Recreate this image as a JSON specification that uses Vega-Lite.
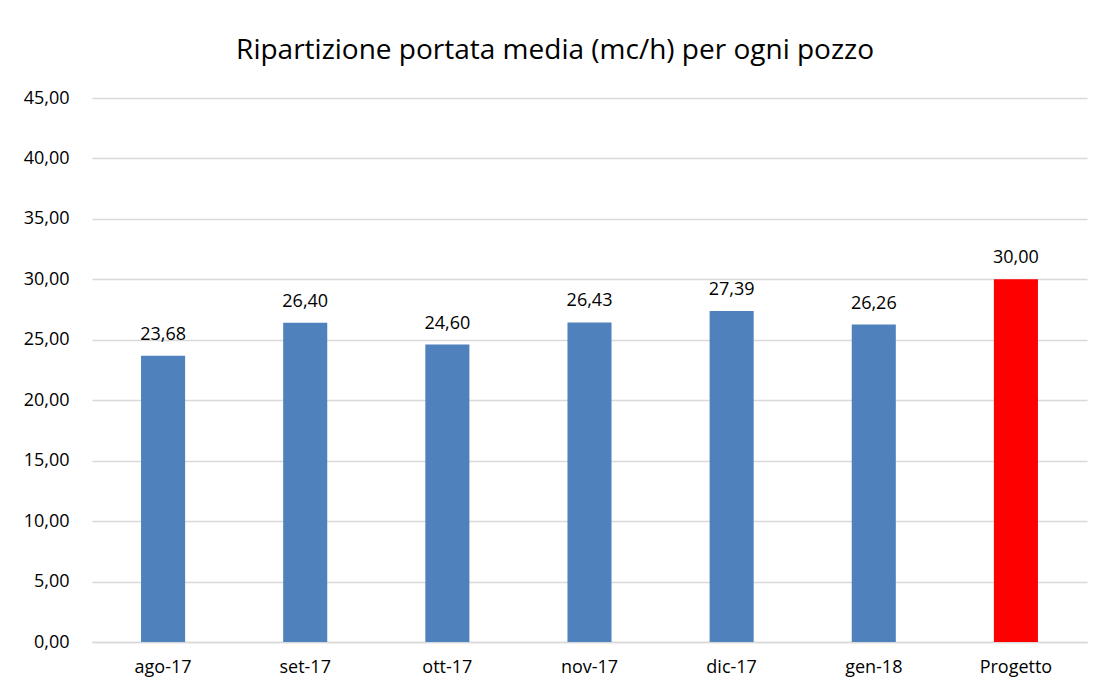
{
  "$schema": "https://vega.github.io/schema/vega-lite/v6.json",
  "width": 995,
  "height": 544,
  "autosize": {"type": "none"},
  "padding": {"left": 92, "top": 98, "right": 15, "bottom": 48},
  "background": "white",
  "config": {
    "locale": {"number": {"decimal": ",", "thousands": ".", "grouping": [3], "currency": ["€", ""]}},
    "view": {"stroke": null},
    "font": "Open Sans"
  },
  "title": {
    "text": "Ripartizione portata media (mc/h) per ogni pozzo",
    "fontSize": 28,
    "fontWeight": "normal",
    "color": "#000000",
    "font": "Open Sans",
    "anchor": "middle",
    "frame": "bounds",
    "offset": 24
  },
  "data": {
    "values": [
      {"mese": "ago-17", "portata": 23.68, "tipo": "misura"},
      {"mese": "set-17", "portata": 26.40, "tipo": "misura"},
      {"mese": "ott-17", "portata": 24.60, "tipo": "misura"},
      {"mese": "nov-17", "portata": 26.43, "tipo": "misura"},
      {"mese": "dic-17", "portata": 27.39, "tipo": "misura"},
      {"mese": "gen-18", "portata": 26.26, "tipo": "misura"},
      {"mese": "Progetto", "portata": 30.00, "tipo": "progetto"}
    ]
  },
  "encoding": {
    "x": {
      "field": "mese",
      "type": "nominal",
      "sort": null,
      "scale": {"paddingInner": 0.69, "paddingOuter": 0.345},
      "axis": {
        "title": null,
        "labelAngle": 0,
        "labelFontSize": 18,
        "labelColor": "#000000",
        "labelPadding": 16,
        "ticks": false,
        "domainColor": "#D9D9D9",
        "domainWidth": 1.5
      }
    },
    "y": {
      "field": "portata",
      "type": "quantitative",
      "scale": {"domain": [0, 45], "nice": false},
      "axis": {
        "title": null,
        "values": [0, 5, 10, 15, 20, 25, 30, 35, 40, 45],
        "format": ".2f",
        "labelFontSize": 18,
        "labelColor": "#000000",
        "labelPadding": 23,
        "ticks": false,
        "domain": false,
        "gridColor": "#D9D9D9",
        "gridWidth": 1.5
      }
    }
  },
  "layer": [
    {
      "mark": {"type": "bar"},
      "encoding": {
        "color": {
          "field": "tipo",
          "type": "nominal",
          "scale": {"domain": ["misura", "progetto"], "range": ["#4F81BD", "#FF0000"]},
          "legend": null
        }
      }
    },
    {
      "mark": {"type": "text", "dy": -12, "fontSize": 18, "color": "#000000", "baseline": "bottom"},
      "encoding": {
        "text": {"field": "portata", "type": "quantitative", "format": ".2f"}
      }
    }
  ]
}
